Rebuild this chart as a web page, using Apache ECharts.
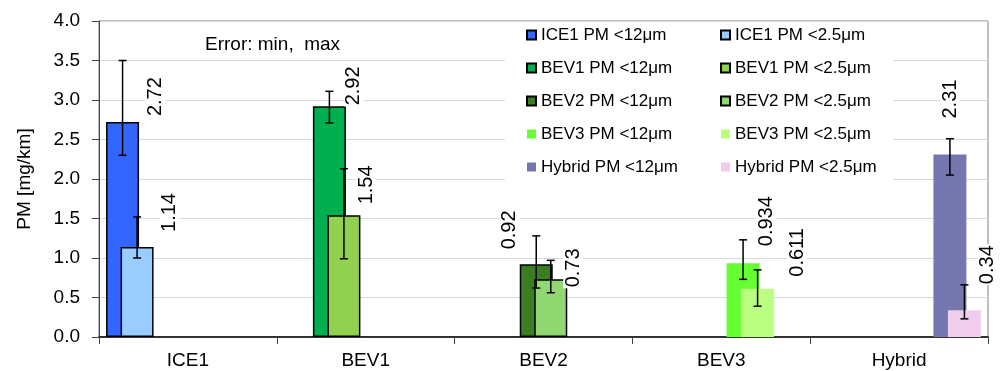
<!DOCTYPE html>
<html>
<head>
<meta charset="utf-8">
<script src="https://cdn.jsdelivr.net/npm/echarts@6/dist/echarts.min.js"></script>
<style>
  html, body { margin: 0; padding: 0; background: #fff; }
  #container { width: 1000px; height: 371px; }
</style>
</head>
<body>
<div id="container"></div>
<script>
var categories = ['ICE1', 'BEV1', 'BEV2', 'BEV3', 'Hybrid'];
// PM < 12 µm and PM < 2.5 µm, mg/km
var pm12 = [2.72, 2.92, 0.92, 0.934, 2.31];
var pm25 = [1.14, 1.54, 0.73, 0.611, 0.34];
// error bars: min, max
var err12Min = [2.30, 2.71, 0.62, 0.73, 2.05];
var err12Max = [3.50, 3.11, 1.28, 1.23, 2.51];
var err25Min = [1.00, 0.99, 0.56, 0.39, 0.23];
var err25Max = [1.52, 2.13, 0.97, 0.85, 0.66];

var colors12 = ['#3366ff', '#00b050', '#3a7d22', '#66ff33', '#7777b0'];
var colors25 = ['#99ccff', '#92d050', '#92d872', '#bbff80', '#f0cdea'];
var bordered = [true, true, true, false, false];
// label anchor relative to bar top-left [px]
var labelPos12 = [[49, -5], [41, 0], [-10, -14], [40, -16], [17, -35]];
var labelPos25 = [[49, -14], [39, -10], [39, 9], [56, -11], [40, -25]];

var font = 'Liberation Sans, Arial, sans-serif';
var barW = 33;
var barGap = -0.56;
var step = barW * (1 + barGap);
var groupW = barW + 9 * step;
function slotOffset(slot) {
  return -groupW / 2 + barW / 2 + step * slot;
}

var series = [];
var names12 = [], names25 = [];
var errData = [];
categories.forEach(function (cat, k) {
  var n12 = cat + ' PM <12μm', n25 = cat + ' PM <2.5μm';
  names12.push(n12);
  names25.push(n25);
  [[n12, pm12, colors12, labelPos12], [n25, pm25, colors25, labelPos25]].forEach(function (s) {
    var d = categories.map(function (c, i) { return i === k ? s[1][k] : '-'; });
    series.push({
      name: s[0],
      type: 'bar',
      data: d,
      barWidth: barW,
      barGap: '-56%',
      itemStyle: {
        color: s[2][k],
        borderColor: '#000',
        borderWidth: bordered[k] ? 1.5 : 0
      },
      label: {
        show: true,
        rotate: 90,
        position: s[3][k],
        align: 'left',
        verticalAlign: 'middle',
        fontFamily: font,
        fontSize: 20,
        color: '#000',
        backgroundColor: '#fff',
        padding: [0, 1]
      }
    });
  });
  errData.push([k, 2 * k, err12Min[k], err12Max[k]]);
  errData.push([k, 2 * k + 1, err25Min[k], err25Max[k]]);
});

series.push({
  type: 'custom',
  z: 10,
  data: errData,
  encode: { x: 0, y: [2, 3] },
  renderItem: function (params, api) {
    var cat = api.value(0);
    var lo = api.coord([cat, api.value(2)]);
    var hi = api.coord([cat, api.value(3)]);
    var x = lo[0] + slotOffset(api.value(1));
    var st = { stroke: '#000', lineWidth: 1.5 };
    return {
      type: 'group',
      children: [
        { type: 'line', shape: { x1: x, y1: lo[1], x2: x, y2: hi[1] }, style: st },
        { type: 'line', shape: { x1: x - 4, y1: lo[1], x2: x + 4, y2: lo[1] }, style: st },
        { type: 'line', shape: { x1: x - 4, y1: hi[1], x2: x + 4, y2: hi[1] }, style: st }
      ]
    };
  }
});

var legendBase = {
  orient: 'vertical',
  top: 25,
  padding: 0,
  itemGap: 13,
  itemWidth: 9,
  itemHeight: 9,
  icon: 'rect',
  textStyle: { fontFamily: font, fontSize: 17, color: '#000', lineHeight: 20 }
};

var myChart = echarts.init(document.getElementById('container'));
var option = {
  animation: false,
  title: {
    text: 'Error: min,  max',
    left: 205,
    top: 35,
    padding: 0,
    textStyle: { fontFamily: font, fontSize: 19, fontWeight: 'normal', color: '#000' }
  },
  legend: [
    Object.assign({}, legendBase, { left: 526, data: names12 }),
    Object.assign({}, legendBase, { left: 720, data: names25 })
  ],
  graphic: [{
    type: 'rect',
    z: 1,
    shape: { x: 505, y: 22, width: 388, height: 168 },
    style: { fill: '#fff' }
  }],
  grid: {
    left: 99, right: 12, top: 21, bottom: 34,
    show: true,
    borderColor: '#808080',
    borderWidth: 1
  },
  xAxis: {
    type: 'category',
    data: categories,
    axisLine: { lineStyle: { color: '#000', width: 1.5 } },
    axisTick: { show: true, length: 7, lineStyle: { color: '#444' } },
    axisLabel: { fontFamily: font, fontSize: 19, color: '#000', margin: 14 }
  },
  yAxis: {
    type: 'value',
    min: 0,
    max: 4,
    interval: 0.5,
    name: 'PM [mg/km]',
    nameLocation: 'middle',
    nameGap: 65,
    nameTextStyle: { fontFamily: font, fontSize: 19, color: '#000' },
    axisLine: { show: true, lineStyle: { color: '#444' } },
    axisTick: { show: true, length: 7, lineStyle: { color: '#444' } },
    axisLabel: {
      fontFamily: font, fontSize: 19, color: '#000', margin: 19,
      formatter: function (v) { return v.toFixed(1); }
    },
    splitLine: { lineStyle: { color: '#d9d9d9' } }
  },
  series: series
};
myChart.setOption(option, true);
</script>
</body>
</html>
